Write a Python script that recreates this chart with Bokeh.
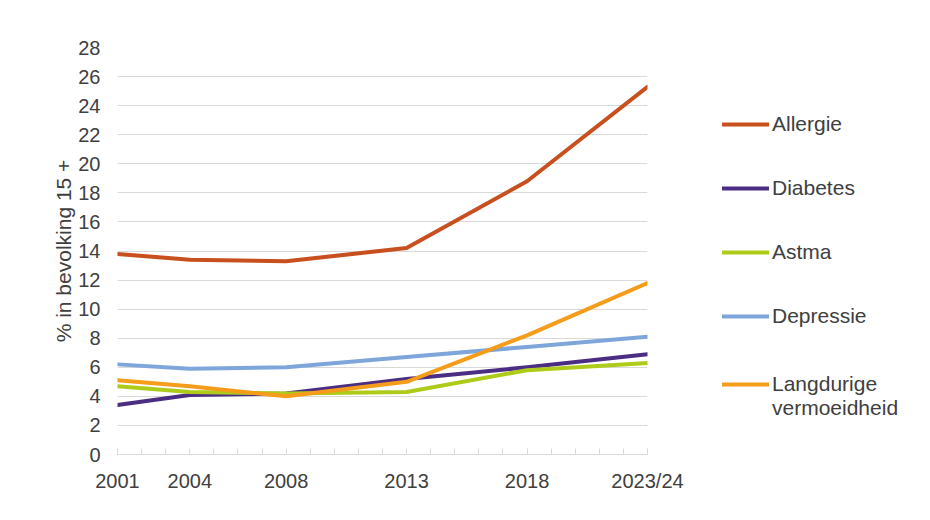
from bokeh.plotting import figure
from bokeh.models import Legend, LegendItem, FixedTicker, Range1d
from bokeh.embed import file_html
from bokeh.resources import INLINE

years = [2001, 2004, 2008, 2013, 2018, 2023]
year_labels = {2023: "2023/24"}
minor_years = list(range(2001, 2024))
allergie = [13.8, 13.4, 13.3, 14.2, 18.8, 25.3]
diabetes = [3.4, 4.1, 4.2, 5.2, 6.0, 6.9]
astma = [4.7, 4.3, 4.2, 4.3, 5.8, 6.3]
depressie = [6.2, 5.9, 6.0, 6.7, 7.4, 8.1]
vermoeidheid = [5.1, 4.7, 4.0, 5.0, 8.2, 11.8]
y_ticks = list(range(0, 29, 2))

NB = "\u00a0"
series = [
    ("Allergie", allergie, "#C8501E"),
    ("Diabetes", diabetes, "#4B2D84"),
    ("Astma", astma, "#AFCB1A"),
    ("Depressie", depressie, "#7EA6DA"),
    ("Langdurige\nvermoeidheid", vermoeidheid, "#F59C1A"),
]

FONT = "Liberation Sans"
TXT = "#404040"

p = figure(frame_width=530, frame_height=407, output_backend="svg",
           toolbar_location=None,
           x_range=Range1d(2001, 2023), y_range=Range1d(0, 28),
           min_border_left=117, min_border_right=0, min_border_top=47,
           min_border_bottom=50)
p.outline_line_color = None
p.xgrid.grid_line_color = None
p.ygrid.grid_line_color = "#D9D9D9"
p.ygrid.grid_line_width = 1

p.xaxis.ticker = FixedTicker(ticks=years, minor_ticks=minor_years)
p.xaxis.major_label_overrides = year_labels
p.xaxis.axis_line_color = "#D9D9D9"
p.xaxis.major_tick_line_color = "#D9D9D9"
p.xaxis.minor_tick_line_color = "#D9D9D9"
p.xaxis.major_tick_in = 6
p.xaxis.major_tick_out = 0
p.xaxis.minor_tick_in = 6
p.xaxis.minor_tick_out = 0
p.xaxis.major_label_standoff = 15

p.yaxis.ticker = FixedTicker(ticks=y_ticks)
p.yaxis.axis_line_color = None
p.yaxis.major_tick_line_color = None
p.yaxis.minor_tick_line_color = None
p.yaxis.major_label_standoff = 11
p.yaxis.axis_label = "% in bevolking 15 +"
p.yaxis.axis_label_standoff = 0
p.yaxis.axis_label_text_font_style = "normal"
p.yaxis.axis_label_text_font_size = "21px"
p.yaxis.axis_label_text_font = FONT
p.yaxis.axis_label_text_color = TXT

for ax in (p.xaxis, p.yaxis):
    ax.major_label_text_font = FONT
    ax.major_label_text_font_size = "20px"
    ax.major_label_text_color = TXT

items = []
for name, vals, col in series:
    r = p.line(years, vals, line_color=col, line_width=4,
               line_cap="round", line_join="round")
    # a two-line label gets a blank first line so that its marker sits on line one
    label = NB + "\n" + name if "\n" in name else name
    items.append(LegendItem(label=label, renderers=[r]))

legend = Legend(items=items, location=(75, 34), padding=0, margin=0,
                spacing=0, glyph_width=47, glyph_height=20, label_height=64,
                label_standoff=3, label_text_font=FONT,
                label_text_font_size="21px", label_text_color=TXT,
                border_line_color=None, background_fill_alpha=0)
p.add_layout(legend, "right")

open("out.html", "w").write(file_html(p, INLINE))
